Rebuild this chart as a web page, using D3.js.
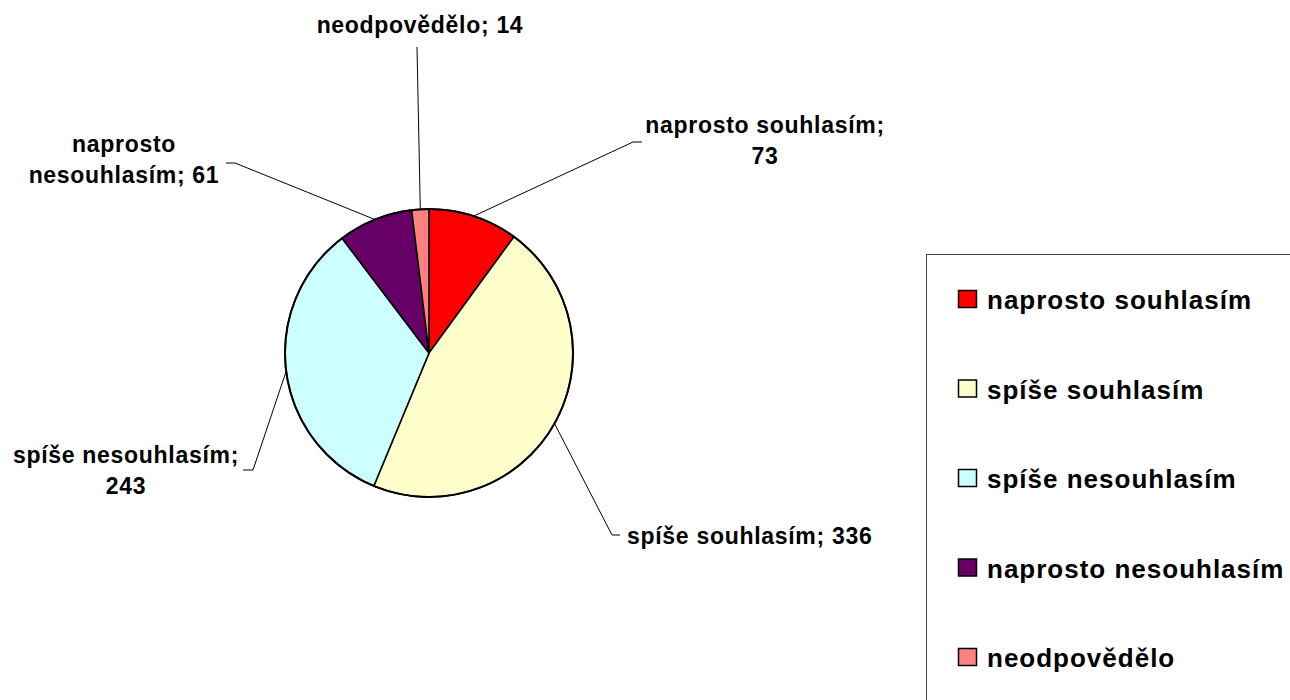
<!DOCTYPE html>
<html>
<head>
<meta charset="utf-8">
<script src="https://cdn.jsdelivr.net/npm/d3@7"></script>
<style>
  html, body { margin: 0; padding: 0; background: #fff; }
  svg { display: block; }
  text { font-family: "Liberation Sans", Arial, sans-serif; font-weight: bold; fill: #000; }
</style>
</head>
<body>
<svg id="chart" width="1290" height="700"></svg>
<script>
// ---- data ----
const categories = ["naprosto souhlasím", "spíše souhlasím", "spíše nesouhlasím", "naprosto nesouhlasím", "neodpovědělo"];
const values = [73, 336, 243, 61, 14];
const colors = ["#FF0000", "#FFFFCC", "#CCFFFF", "#660066", "#FF8080"];

// ---- layout for data labels (positions only) ----
const labelLayout = [
  { lines: d => [d.cat + ";", String(d.val)], x: 765, y: 133, anchor: "middle", elbow: [633, 142], end: [642, 142] },
  { lines: d => [d.cat + "; " + d.val], x: 627, y: 544, anchor: "start", elbow: [612, 535], end: [620, 535] },
  { lines: d => [d.cat + ";", String(d.val)], x: 126, y: 463, anchor: "middle", elbow: [253, 470], end: [243, 470] },
  { lines: d => ["naprosto", "nesouhlasím; " + d.val], x: 124, y: 152, anchor: "middle", elbow: [235, 163], end: [226, 163] },
  { lines: d => [d.cat + "; " + d.val], x: 420, y: 33, anchor: "middle", elbow: [417, 47], end: [417, 47] }
];
const lineGap = 31;

const svg = d3.select("#chart");
const cx = 429, cy = 353, R = 144;

const data = categories.map((c, i) => ({ cat: c, val: values[i], color: colors[i] }));

const pie = d3.pie().value(d => d.val).sort(null);
const arcs = pie(data);
const arc = d3.arc().innerRadius(0).outerRadius(R);

const g = svg.append("g").attr("transform", `translate(${cx},${cy})`);
g.selectAll("path.slice")
  .data(arcs)
  .join("path")
  .attr("class", "slice")
  .attr("d", arc)
  .attr("fill", d => d.data.color)
  .attr("stroke", "#000")
  .attr("stroke-width", 1.6)
  .attr("stroke-linejoin", "round");

g.append("circle").attr("r", R).attr("fill", "none").attr("stroke", "#000").attr("stroke-width", 2);

arcs.forEach((a, i) => {
  const L = labelLayout[i];
  const mid = (a.startAngle + a.endAngle) / 2;
  const sx = cx + R * Math.sin(mid), sy = cy - R * Math.cos(mid);
  svg.append("path")
    .attr("d", d3.line()([[sx, sy], L.elbow, L.end]))
    .attr("fill", "none")
    .attr("stroke", "#000")
    .attr("stroke-width", 1);
  const lines = L.lines(a.data);
  const t = svg.append("text")
    .attr("text-anchor", L.anchor)
    .attr("font-size", 23)
    .attr("letter-spacing", 0.7);
  lines.forEach((s, j) => {
    t.append("tspan").attr("x", L.x).attr("y", L.y + j * lineGap).text(s);
  });
});

// legend
const lg = svg.append("g");
lg.append("rect")
  .attr("x", 926.5).attr("y", 254.5)
  .attr("width", 400).attr("height", 500)
  .attr("fill", "#fff").attr("stroke", "#444").attr("stroke-width", 1);

const legendY = d3.scalePoint().domain(categories).range([309, 667]);
const items = lg.selectAll("g.item").data(data).join("g").attr("class", "item")
  .attr("transform", d => `translate(0,${legendY(d.cat)})`);
items.append("rect")
  .attr("x", 958.5).attr("y", -18.5)
  .attr("width", 18).attr("height", 17)
  .attr("fill", d => d.color)
  .attr("stroke", "#000").attr("stroke-width", 1.5);
items.append("text")
  .attr("x", 987).attr("y", 0)
  .attr("font-size", 26)
  .attr("letter-spacing", 1.0)
  .text(d => d.cat);
</script>
</body>
</html>
